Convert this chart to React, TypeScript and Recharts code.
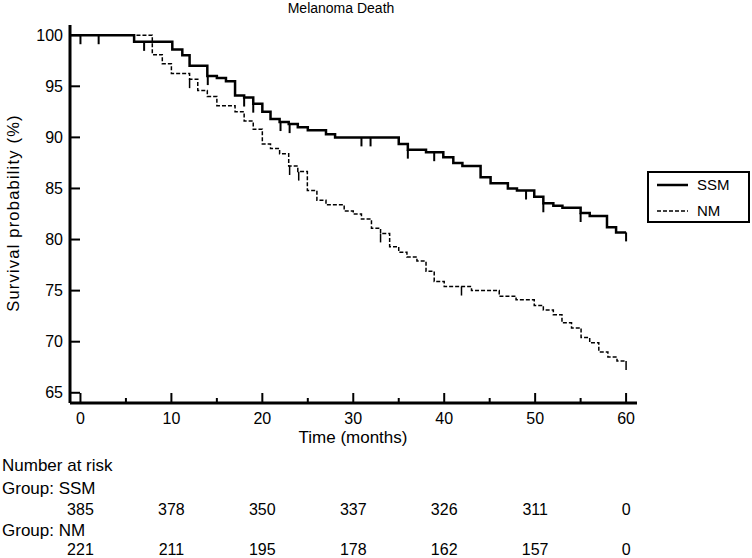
// Kaplan-Meier curves (melanoma death) for SSM vs NM with a number-at-risk table.

import * as React from 'react';
import { ComposedChart, Line, XAxis, YAxis } from 'recharts';

const FONT = 'Arial, "Liberation Sans", Helvetica, sans-serif';

// step curves: month -> survival (%)
const ssmTimes = [-1.1, 5.9, 10.1, 11.2, 12, 13.95, 15, 16, 17, 18, 19, 20, 20.9, 21.9, 22.9, 23.9, 25, 27, 28, 35, 36, 38, 39.9, 41, 42, 44, 45.1, 47, 48, 49.9, 50.9, 52, 53, 55, 56, 57.9, 58.9, 60];
const ssmSurvival = [100, 99.35, 98.6, 98.05, 97, 96, 95.8, 95.5, 94.1, 93.9, 93.3, 92.5, 91.8, 91.5, 91.3, 91, 90.7, 90.3, 90, 89.35, 88.8, 88.55, 88.05, 87.5, 87.2, 86.1, 85.5, 85, 84.8, 84.2, 83.55, 83.3, 83.1, 82.6, 82.3, 81.2, 80.7, 80.7];

const nmTimes = [-1.1, 7.9, 9, 10, 12, 12.9, 13.95, 15, 17, 18, 19, 20, 20.9, 21.9, 22.9, 23.9, 24.95, 26, 27, 29, 30, 30.9, 32, 33, 34, 35, 35.9, 37, 38, 38.9, 40, 43, 46.05, 47.9, 49.9, 50.9, 52, 52.95, 54, 55.05, 56, 57, 58, 59, 60];
const nmSurvival = [100, 98.1, 97.2, 96.25, 95.7, 94.6, 94, 93.1, 92.5, 91.6, 90.8, 89.35, 88.9, 88.4, 87.2, 86.65, 84.8, 83.85, 83.4, 82.8, 82.5, 82, 81.1, 80.6, 79.3, 78.75, 78.3, 77.9, 76.9, 75.9, 75.4, 75, 74.45, 74.1, 73.55, 73.1, 72.65, 71.85, 71.35, 70.4, 69.9, 69, 68.5, 68.1, 68.1];

// censored observations
const ssmCensorTimes = [0, 2, 7, 14, 18, 19, 22, 23, 30.9, 31.9, 36, 38.9, 49, 50.9, 55, 60];
const ssmCensorSurvival = [100, 100, 99.35, 96, 93.9, 93.3, 91.5, 91.3, 90, 90, 88.8, 88.55, 84.8, 83.55, 82.6, 80.7];
const nmCensorTimes = [12, 23, 24, 33, 41.9, 60];
const nmCensorSurvival = [95.7, 87.2, 86.65, 80.6, 75.4, 68.1];

const xTicks = [0, 5, 10, 15, 20, 25, 30, 35, 40, 45, 50, 55, 60];
const yTicks = [65, 70, 75, 80, 85, 90, 95, 100];

const riskTimes = [0, 10, 20, 30, 40, 50, 60];
const riskSSM = [385, 378, 350, 337, 326, 311, 0];
const riskNM = [221, 211, 195, 178, 162, 157, 0];

const X_DOMAIN: [number, number] = [-1.15, 61.2];

const toPoints = (times: number[], values: number[]) => times.map((t, i) => ({ t, v: values[i] }));

const ssmData = toPoints(ssmTimes, ssmSurvival);
const nmData = toPoints(nmTimes, nmSurvival);
const ssmCensored = toPoints(ssmCensorTimes, ssmCensorSurvival);
const nmCensored = toPoints(nmCensorTimes, nmCensorSurvival);

const YTick = ({ x, y, payload }: any) => (
  <g>
    <line x1={x + 7} x2={x + 17} y1={y} y2={y} stroke='#000' strokeWidth={2} />
    <text x={x} y={y} textAnchor='end' dominantBaseline='central' fontSize={16} fontFamily={FONT} fill='#000'>
      {payload.value}
    </text>
  </g>
);

const XTick = ({ x, y, payload }: any) => {
  const major = payload.value % 10 === 0;
  return (
    <g>
      <line x1={x} x2={x} y1={y - 15} y2={y - 15 - (major ? 10 : 5)} stroke='#000' strokeWidth={2} />
      {major && (
        <text x={x} y={y} textAnchor='middle' dominantBaseline='central' fontSize={16} fontFamily={FONT} fill='#000'>
          {payload.value}
        </text>
      )}
    </g>
  );
};

const riskTick = (counts: number[]) => ({ x, y, payload }: any) => (
  <text x={x} y={y} textAnchor='middle' dominantBaseline='central' fontSize={16} fontFamily={FONT} fill='#000'>
    {counts[riskTimes.indexOf(payload.value)]}
  </text>
);

const censorDot = (width: number) => (props: any) => (
  <line
    key={`c-${props.index}-${props.cx}`}
    x1={props.cx}
    x2={props.cx}
    y1={props.cy}
    y2={props.cy + 9}
    stroke='#000'
    strokeWidth={width}
  />
);

const textAt = (left: number, top: number, size: number, anchor: 'left' | 'center' = 'left'): React.CSSProperties => ({
  position: 'absolute',
  left,
  top,
  fontSize: size,
  lineHeight: 1,
  whiteSpace: 'nowrap',
  transform: anchor === 'center' ? 'translate(-50%, -50%)' : 'translate(0, -50%)',
});

export default function App() {
  return (
    <div style={{ position: 'fixed', left: 0, top: 0, width: 752, height: 558, background: '#fff', fontFamily: FONT, color: '#000' }}>
      <ComposedChart width={752} height={558} margin={{ top: 25, right: 115, left: 0, bottom: 0 }}>
        <XAxis
          dataKey='t'
          type='number'
          domain={X_DOMAIN}
          allowDataOverflow
          ticks={xTicks}
          interval={0}
          tickSize={0}
          tickMargin={15}
          tick={<XTick />}
          axisLine={{ stroke: '#000', strokeWidth: 3 }}
          height={80}
        />
        {/* risk-table rows, stacked under the time axis */}
        <XAxis
          xAxisId='risk2'
          dataKey='t'
          type='number'
          domain={X_DOMAIN}
          allowDataOverflow
          ticks={riskTimes}
          interval={0}
          tickSize={0}
          tickMargin={36}
          tick={riskTick(riskNM)}
          axisLine={false}
          tickLine={false}
          height={45}
        />
        <XAxis
          xAxisId='risk1'
          dataKey='t'
          type='number'
          domain={X_DOMAIN}
          allowDataOverflow
          ticks={riskTimes}
          interval={0}
          tickSize={0}
          tickMargin={26}
          tick={riskTick(riskSSM)}
          axisLine={false}
          tickLine={false}
          height={30}
        />
        <YAxis
          dataKey='v'
          type='number'
          domain={[64, 101]}
          allowDataOverflow
          ticks={yTicks}
          interval={0}
          tickSize={0}
          tickMargin={7}
          tick={<YTick />}
          axisLine={{ stroke: '#000', strokeWidth: 3 }}
          width={70}
        />
        {/* invisible series so the risk-table axes have data bound to them */}
        <Line xAxisId='risk1' data={ssmData} dataKey='v' stroke='none' dot={false} activeDot={false} isAnimationActive={false} />
        <Line xAxisId='risk2' data={nmData} dataKey='v' stroke='none' dot={false} activeDot={false} isAnimationActive={false} />

        <Line data={nmData} dataKey='v' type='stepAfter' stroke='#000' strokeWidth={1.5} strokeDasharray='4 2' dot={false} activeDot={false} isAnimationActive={false} />
        <Line data={ssmData} dataKey='v' type='stepAfter' stroke='#000' strokeWidth={2.5} dot={false} activeDot={false} isAnimationActive={false} />
        <Line data={nmCensored} dataKey='v' stroke='none' dot={censorDot(1.5)} activeDot={false} isAnimationActive={false} />
        <Line data={ssmCensored} dataKey='v' stroke='none' dot={censorDot(2)} activeDot={false} isAnimationActive={false} />
      </ComposedChart>

      <div style={textAt(341, 8, 14, 'center')}>Melanoma Death</div>
      <div style={{ ...textAt(12.5, 213, 16.5, 'center'), transform: 'translate(-50%, -50%) rotate(-90deg)', letterSpacing: 1.2 }}>
        Survival probability (%)
      </div>
      <div style={textAt(353, 437, 17, 'center')}>Time (months)</div>

      <div style={textAt(2, 465, 17)}>Number at risk</div>
      <div style={textAt(2, 488, 17)}>Group: SSM</div>
      <div style={textAt(2, 530, 17)}>Group: NM</div>

      <svg width={104} height={52} style={{ position: 'absolute', left: 647, top: 171 }}>
        <rect x={1} y={1} width={101} height={50} fill='#fff' stroke='#000' strokeWidth={2} />
        <line x1={10} x2={41} y1={14} y2={14} stroke='#000' strokeWidth={2.5} />
        <line x1={10} x2={41} y1={40} y2={40} stroke='#000' strokeWidth={1.5} strokeDasharray='4 2' />
        <text x={50} y={13} dominantBaseline='central' fontSize={15} fontFamily={FONT}>SSM</text>
        <text x={50} y={39} dominantBaseline='central' fontSize={15} fontFamily={FONT}>NM</text>
      </svg>
    </div>
  );
}
